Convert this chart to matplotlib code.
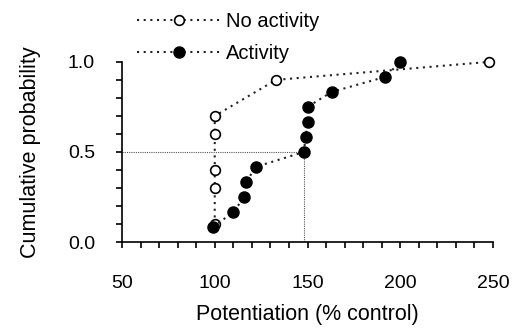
import matplotlib
import matplotlib.pyplot as plt

matplotlib.use("Agg")

plt.rcParams["font.family"] = ["Liberation Sans", "DejaVu Sans"]

# 数据
no_act_x = [100, 100, 100, 100, 100, 133, 248]
no_act_y = [0.1, 0.3, 0.4, 0.6, 0.7, 0.9, 1.0]

act_x = [99, 110, 116, 117, 122, 148, 149, 150, 150, 163, 192, 200]
act_y = [0.083, 0.167, 0.25, 0.333, 0.417, 0.5, 0.583, 0.667, 0.75, 0.833, 0.917, 1.0]

median_x = 148
median_y = 0.5

x_ticks = [50, 100, 150, 200, 250]
y_ticks = [0.0, 0.5, 1.0]

fig = plt.figure(figsize=(5.19, 3.29), dpi=100)
ax = fig.add_axes([0.235, 0.264, 0.715, 0.548])

dots = (0, (1, 2.2))

# 中位数参考线
ax.plot([50, median_x], [median_y, median_y], color="#555555", lw=0.8,
        linestyle=(0, (1, 1)), zorder=1)
ax.plot([median_x, median_x], [0, median_y], color="#555555", lw=0.8,
        linestyle=(0, (1, 1)), zorder=1)

ax.plot(no_act_x, no_act_y, linestyle=dots, color="#222222", lw=1.5,
        marker="o", markersize=7, markerfacecolor="white",
        markeredgecolor="black", markeredgewidth=1.2,
        label="No activity", clip_on=False, zorder=3)
ax.plot(act_x, act_y, linestyle=dots, color="#222222", lw=1.5,
        marker="o", markersize=8, markerfacecolor="black",
        markeredgecolor="black", label="Activity", clip_on=False, zorder=4)

ax.set_xlim(50, 250)
ax.set_ylim(0, 1)
ax.set_xticks(x_ticks)
ax.set_xticks(range(50, 251, 10), minor=True)
ax.set_yticks(y_ticks)
ax.set_yticks([i / 10 for i in range(11)], minor=True)
ax.set_yticklabels(["0.0", "0.5", "1.0"])

for s in ["top", "right"]:
    ax.spines[s].set_visible(False)
for s in ["left", "bottom"]:
    ax.spines[s].set_linewidth(1.2)

ax.tick_params(which="both", direction="out", width=1.2, length=4.5,
               labelsize=14, colors="black")
ax.tick_params(axis="x", which="major", pad=19)
ax.tick_params(axis="y", which="major", pad=15)

ax.set_xlabel("Potentiation (% control)", fontsize=15.5, labelpad=9)
ax.set_ylabel("Cumulative probability", fontsize=15.5, labelpad=19)

fig.legend(loc="upper left", bbox_to_anchor=(0.245, 0.995), frameon=False,
           fontsize=14.5, handlelength=4.1, handletextpad=0.3,
           labelspacing=0.65, borderaxespad=0.1)

fig.savefig("out.png", dpi=100)
